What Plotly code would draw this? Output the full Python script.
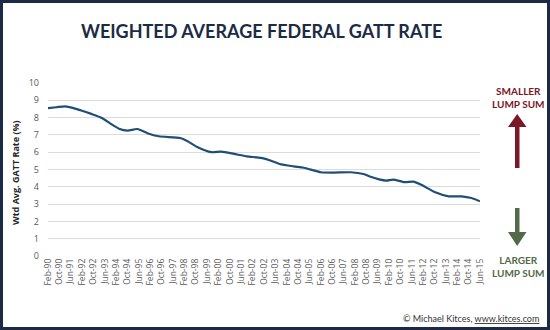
import pandas as pd
import plotly.graph_objects as go

# Weighted average federal GATT rate (%), monthly readings
dates = [
    "1990-02", "1990-08", "1991-02", "1991-08", "1992-02", "1992-08",
    "1993-04", "1993-10", "1994-04", "1994-10", "1995-05", "1995-12",
    "1996-08", "1997-11", "1998-04", "1998-11", "1999-09", "2000-04",
    "2001-01", "2001-10", "2002-08", "2003-03", "2003-09", "2004-07",
    "2005-02", "2006-02", "2006-11", "2007-11", "2008-08", "2009-01",
    "2009-07", "2009-12", "2010-05", "2011-01", "2011-07", "2012-01",
    "2012-10", "2013-08", "2014-05", "2014-12", "2015-06",
]
rates = [
    8.55, 8.60, 8.65, 8.55, 8.40, 8.23,
    7.98, 7.65, 7.36, 7.25, 7.34, 7.10,
    6.92, 6.82, 6.65, 6.30, 6.00, 6.03,
    5.90, 5.76, 5.67, 5.51, 5.32, 5.18,
    5.10, 4.84, 4.82, 4.84, 4.74, 4.58,
    4.43, 4.36, 4.42, 4.27, 4.30, 4.10,
    3.70, 3.45, 3.45, 3.35, 3.16,
]

# Axis ticks: every 8 months, Feb-90 .. Jun-15
tick_dates = pd.date_range("1990-02-01", "2015-06-01", freq="8MS")
tick_text = [d.strftime("%b-%y") for d in tick_dates]
y_ticks = list(range(0, 11))

W, H = 550, 330
L, R, T, B = 48, 70, 83, 74
PW, PH = W - L - R, H - T - B


def px(x):
    return (x - L) / PW


def py(y):
    return (H - B - y) / PH


NAVY = "#1c2b45"
LINE = "#1f4e79"
RED = "#7b1728"
GREEN = "#526a47"

fig = go.Figure()
fig.add_trace(go.Scatter(
    x=pd.to_datetime(dates), y=rates, mode="lines",
    line=dict(color=LINE, width=2.2, shape="spline", smoothing=0.6),
    hoverinfo="skip", showlegend=False,
))

shapes = [
    # outer frame
    dict(type="rect", xref="paper", yref="paper",
         x0=px(1.5), x1=px(W - 1.5), y0=py(1.5), y1=py(H - 1.5),
         line=dict(color=NAVY, width=3), fillcolor="rgba(0,0,0,0)", layer="above"),
    # up arrow (smaller lump sum)
    dict(type="path", xref="paper", yref="paper",
         path=(f"M {px(515)} {py(168)} L {px(519.5)} {py(168)} L {px(519.5)} {py(127)} "
               f"L {px(526.5)} {py(127)} L {px(517.2)} {py(114)} L {px(508)} {py(127)} "
               f"L {px(515)} {py(127)} Z"),
         fillcolor=RED, line=dict(width=0)),
    # down arrow (larger lump sum)
    dict(type="path", xref="paper", yref="paper",
         path=(f"M {px(515)} {py(208)} L {px(519.5)} {py(208)} L {px(519.5)} {py(232)} "
               f"L {px(526.5)} {py(232)} L {px(517.2)} {py(246)} L {px(508)} {py(232)} "
               f"L {px(515)} {py(232)} Z"),
         fillcolor=GREEN, line=dict(width=0)),
]


def note(text, x, y, size, color, family="Lato", **kw):
    return dict(text=text, xref="paper", yref="paper", x=px(x), y=py(y),
                xanchor=kw.pop("xanchor", "center"), yanchor="middle",
                showarrow=False, align="center",
                font=dict(family=family, size=size, color=color), **kw)


annotations = [
    note("<b>WEIGHTED AVERAGE FEDERAL GATT RATE</b>", 261, 31, 18, NAVY),
    note("<b>Wtd Avg. GATT Rate (%)</b>", 15, 173, 9, "#262626",
         family="Open Sans", textangle=-90),
    note("<b>SMALLER<br>LUMP SUM</b>", 518, 97, 10, RED),
    note("<b>LARGER<br>LUMP SUM</b>", 518, 266.5, 10, GREEN),
    note('© Michael Kitces, <span style="text-decoration:underline">www.kitces.com</span>',
         541, 318, 9, "#333333", xanchor="right"),
]

fig.update_layout(
    width=W, height=H,
    margin=dict(l=L, r=R, t=T, b=B),
    paper_bgcolor="white", plot_bgcolor="white",
    shapes=shapes, annotations=annotations,
    xaxis=dict(
        range=[pd.Timestamp("1990-02-01"), pd.Timestamp("2015-06-01")],
        tickvals=tick_dates, ticktext=tick_text, tickangle=-90,
        showgrid=False, showline=False, zeroline=False, ticks="",
        tickfont=dict(family="Open Sans", size=8.5, color="#595959"),
    ),
    yaxis=dict(
        range=[0, 10], tickvals=y_ticks, showgrid=True, gridcolor="#dcdcdc",
        gridwidth=1, zeroline=False, showline=False, ticks="",
        ticklabelstandoff=8,
        tickfont=dict(family="Open Sans", size=9, color="#595959"),
    ),
)

fig.write_html("out.html")
